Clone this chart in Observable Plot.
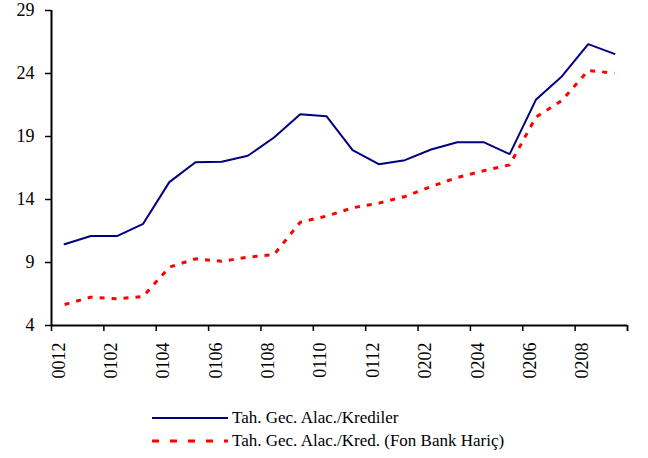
<!DOCTYPE html>
<html>
<head>
<meta charset="utf-8">
<script src="https://cdn.jsdelivr.net/npm/d3@7"></script>
<script src="https://cdn.jsdelivr.net/npm/@observablehq/plot@0.6"></script>
<style>
  body { margin: 0; background: #fff; font-family: "Liberation Serif", "Times New Roman", serif; }
  #chart { position: relative; width: 648px; height: 458px; }
  .legend { position: absolute; left: 152px; height: 20px; font-family: "Liberation Serif", serif; font-size: 17px; display: flex; align-items: center; color: #000; white-space: nowrap; }
  .legend svg { margin-right: 4px; }
</style>
</head>
<body>
<div id="chart"></div>
<script>
// Monthly periods (YYMM), Dec 2000 – Sep 2002
const months = ["0012","0101","0102","0103","0104","0105","0106","0107","0108","0109","0110","0111",
                "0112","0201","0202","0203","0204","0205","0206","0207","0208","0209"];
// Tah. Gec. Alac./Krediler (%)
const krediler = [10.45, 11.1, 11.1, 12.07, 15.38, 16.96, 17.0, 17.47, 18.92, 20.77, 20.61, 17.91,
                  16.8, 17.12, 17.97, 18.55, 18.55, 17.6, 21.91, 23.79, 26.33, 25.56];
// Tah. Gec. Alac./Kred. (Fon Bank Hariç) (%)
const fonHaric = [5.67, 6.25, 6.12, 6.3, 8.63, 9.29, 9.1, 9.42, 9.63, 12.2, 12.68, 13.34,
                  13.71, 14.24, 15.03, 15.75, 16.28, 16.75, 20.53, 21.86, 24.24, 24.03];
const yTicks = [4, 9, 14, 19, 24, 29];
const seriesNames = ["Tah. Gec. Alac./Krediler", "Tah. Gec. Alac./Kred. (Fon Bank Hariç)"];
const seriesColors = ["#000080", "#ff0000"];

const rows = months.map((m, i) => ({i, m, a: krediler[i], b: fonHaric[i]}));
const n = months.length;
// Tick marks sit on the boundaries between every second month
const boundaries = d3.range(-0.5, n, 2).concat([n - 0.5]);
const labelIdx = d3.range(0, n, 2);

const chart = Plot.plot({
  width: 648,
  height: 390,
  marginLeft: 51,
  marginRight: 21,
  marginTop: 10,
  marginBottom: 65,
  style: {fontFamily: "'Liberation Serif', 'Times New Roman', serif", fontSize: "18px", color: "#000", background: "#fff"},
  x: {type: "linear", domain: [-0.5, n - 0.5], axis: null},
  y: {domain: [4, 29], axis: null},
  marks: [
    Plot.axisY({ticks: yTicks, tickSize: 6, tickPadding: 11, tickFormat: d => String(d), strokeWidth: 1.5, label: null}),
    Plot.axisX({ticks: boundaries, tickSize: 6, tickFormat: () => "", strokeWidth: 1.5, label: null}),
    Plot.ruleX([-0.5], {stroke: "#000", strokeWidth: 2}),
    Plot.ruleY([4], {stroke: "#000", strokeWidth: 2}),
    Plot.text(labelIdx, {x: d => d, text: d => months[d], frameAnchor: "bottom", rotate: -90,
                         textAnchor: "end", dy: 17, fontSize: 18, fill: "#000"}),
    Plot.line(rows, {x: "i", y: "a", stroke: seriesColors[0], strokeWidth: 2, strokeLinejoin: "miter"}),
    Plot.line(rows, {x: "i", y: "b", stroke: seriesColors[1], strokeWidth: 3, strokeDasharray: "5,7",
                     strokeLinecap: "butt"})
  ]
});

const root = document.getElementById("chart");
root.appendChild(chart);

// Legend below the plot
const legendTops = [408, 431];
const dashes = [null, "7,11"];
const widths = [2, 3];
seriesNames.forEach((name, k) => {
  const row = document.createElement("div");
  row.className = "legend";
  row.style.top = legendTops[k] + "px";
  row.innerHTML = `<svg width="76" height="6"><line x1="0" x2="76" y1="3" y2="3" stroke="${seriesColors[k]}" stroke-width="${widths[k]}" ${dashes[k] ? `stroke-dasharray="${dashes[k]}"` : ""}/></svg><span></span>`;
  row.querySelector("span").textContent = name;
  root.appendChild(row);
});
</script>
</body>
</html>
